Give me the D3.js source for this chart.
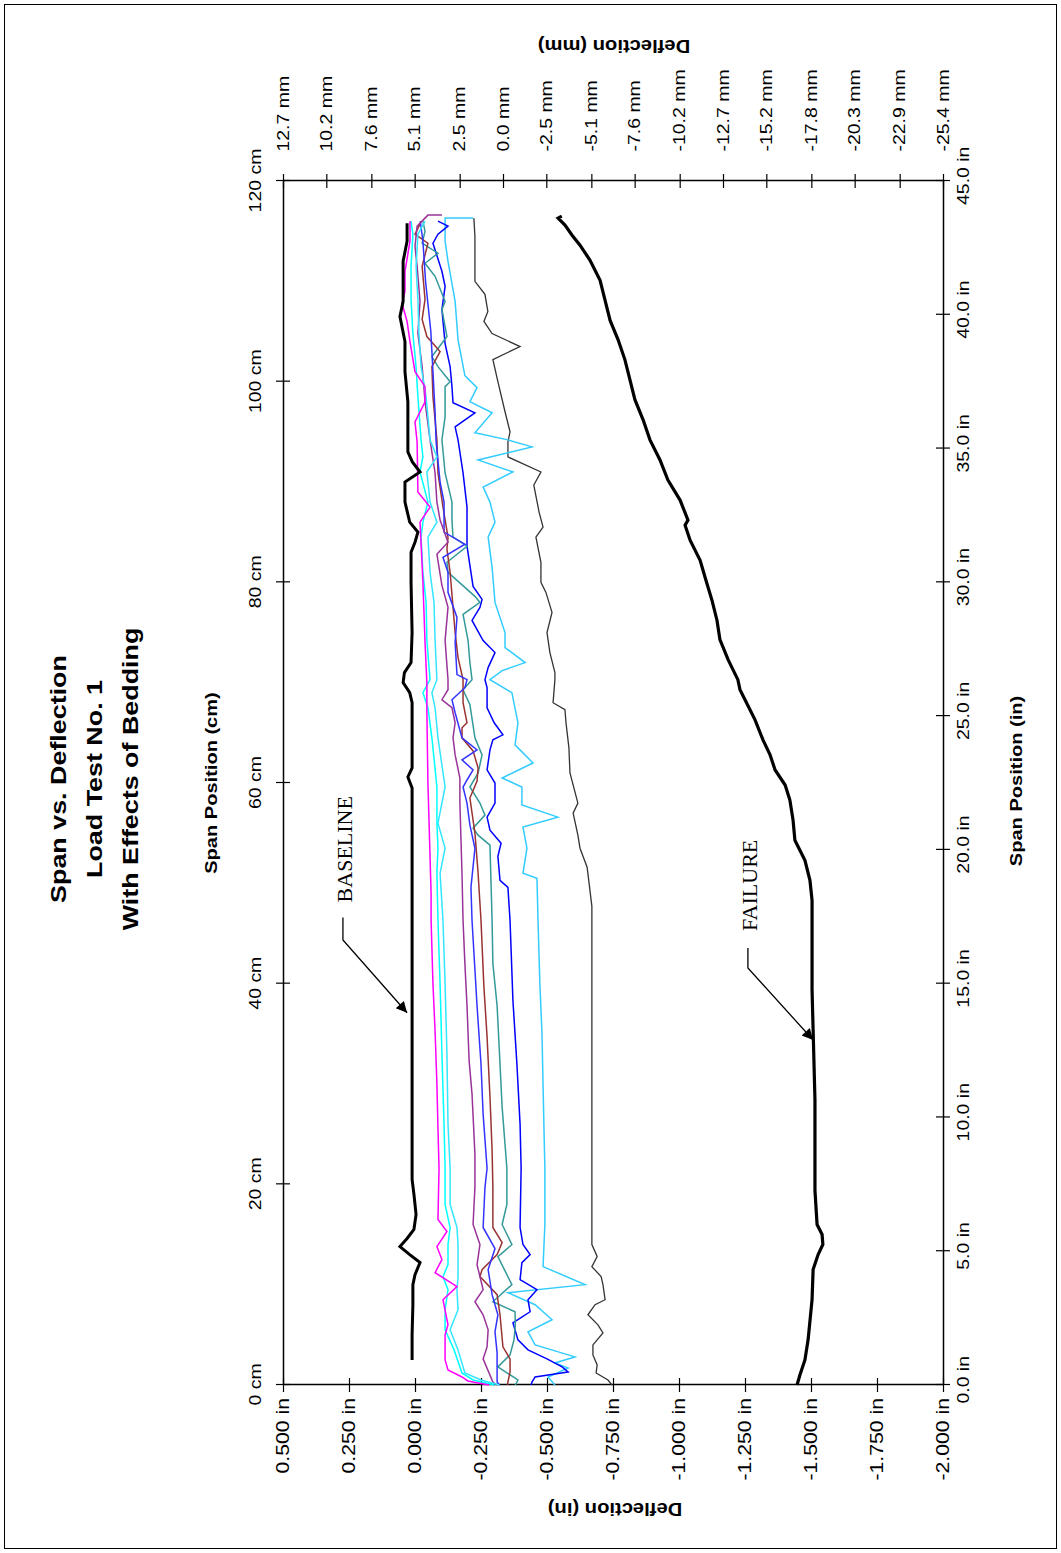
<!DOCTYPE html>
<html>
<head>
<meta charset="utf-8">
<script src="https://cdn.jsdelivr.net/npm/d3@7"></script>
<style>
  body { margin: 0; background: #fff; }
</style>
</head>
<body>
<script>
// ---- axis ticks ----
const cmTicks = [0, 20, 40, 60, 80, 100, 120];
const spanInTicks = [0, 5, 10, 15, 20, 25, 30, 35, 40, 45];
const deflInTicks = [0.5, 0.25, 0, -0.25, -0.5, -0.75, -1.0, -1.25, -1.5, -1.75, -2.0];
const deflMmTicks = [12.7, 10.2, 7.6, 5.1, 2.5, 0.0, -2.5, -5.1, -7.6, -10.2, -12.7, -15.2, -17.8, -20.3, -22.9, -25.4];

// ---- series: [span (cm), deflection (in)] ----
const baseline = [[2.5,0.011],[5,0.011],[8,0.008],[10,0.008],[11,0.0],[12.2,-0.019],[13,0.02],[13.8,0.057],[14.6,0.03],[15.5,0.004],[17,-0.004],[19,0.004],[20.5,0.011],[40,0.011],[59.5,0.011],[60.6,0.027],[61.5,0.011],[68,0.011],[69,0.02],[70,0.045],[71,0.04],[72,0.015],[75,0.011],[80,0.015],[83,0.015],[84,0.0],[85,-0.011],[86,0.02],[88,0.038],[90,0.038],[91,-0.019],[92,0.01],[93,0.027],[98,0.027],[101,0.038],[104,0.038],[106.5,0.057],[108,0.045],[112,0.045],[114,0.03],[115.8,0.03]];

const magenta = [[0,-0.28],[0.4,-0.2],[0.8,-0.178],[1.5,-0.125],[2.5,-0.114],[5,-0.114],[6,-0.125],[8.5,-0.106],[9.8,-0.159],[11.2,-0.076],[12.5,-0.102],[13.8,-0.083],[15.3,-0.121],[16.5,-0.087],[21.6,-0.091],[25.6,-0.087],[30,-0.083],[35.3,-0.076],[40,-0.068],[46.3,-0.061],[49,-0.061],[60,-0.049],[67,-0.045],[70,-0.045],[74,-0.038],[80,-0.030],[86,-0.019],[87.5,-0.057],[89,-0.011],[94,-0.008],[96,0.0],[98,-0.038],[99.5,-0.038],[101,0.0],[104,0.019],[106,0.030],[107.8,0.049],[109,0.038],[111,0.038],[114,0.019],[116,0.019]];

const cyanA = [[0,-0.30],[0.5,-0.22],[1.2,-0.178],[3.5,-0.148],[5.5,-0.114],[7.5,-0.114],[9.5,-0.125],[10.8,-0.106],[12,-0.125],[14,-0.125],[15.7,-0.133],[18,-0.114],[21.6,-0.114],[26,-0.110],[33,-0.102],[40,-0.095],[46.3,-0.087],[51,-0.083],[53.5,-0.087],[56,-0.083],[59.6,-0.083],[64.5,-0.064],[67.5,-0.049],[69,-0.030],[70.3,-0.057],[74.2,-0.045],[78,-0.042],[81,-0.030],[84.5,-0.023],[86,-0.030],[88,-0.049],[91,-0.019],[92.5,-0.030],[94.2,-0.023],[98.5,-0.011],[101.5,-0.004],[104.8,0.008],[108.2,0.015],[111.5,0.015],[114.7,0.008],[116,0.015]];

const cyanB = [[0,-0.32],[0.5,-0.25],[1.2,-0.189],[3.5,-0.163],[5.5,-0.133],[7.5,-0.163],[9.5,-0.159],[10.8,-0.163],[12,-0.163],[14,-0.163],[15.7,-0.159],[18,-0.133],[21.6,-0.133],[26,-0.125],[33,-0.121],[40,-0.114],[46.3,-0.106],[51,-0.095],[53.5,-0.114],[56,-0.087],[59.6,-0.114],[64.5,-0.087],[67.5,-0.076],[69,-0.064],[70.3,-0.083],[74.2,-0.076],[78,-0.072],[81,-0.057],[84.5,-0.049],[86,-0.083],[88,-0.057],[91,-0.045],[92.5,-0.083],[94.2,-0.057],[98.5,-0.042],[101.5,-0.023],[104.8,-0.015],[108.2,-0.011],[111.5,-0.004],[114.7,-0.011],[116,-0.038]];

const purple = [[0,-0.31],[0.3,-0.295],[2.6,-0.258],[3.8,-0.273],[5.5,-0.277],[7,-0.258],[8.3,-0.227],[9.5,-0.258],[12,-0.235],[14,-0.246],[16,-0.220],[19.7,-0.227],[23,-0.227],[29,-0.216],[32.3,-0.205],[37.8,-0.197],[42,-0.189],[46.3,-0.182],[51,-0.178],[58,-0.170],[60.5,-0.170],[62.8,-0.152],[64.5,-0.144],[66,-0.152],[67.5,-0.140],[68.3,-0.102],[69.3,-0.125],[70.3,-0.125],[74.2,-0.114],[77.5,-0.125],[79.7,-0.102],[82.8,-0.083],[84,-0.125],[86.2,-0.095],[88,-0.083],[90.9,-0.076],[94.2,-0.057],[98,-0.038],[101.5,-0.027],[104.8,-0.011],[108,-0.019],[111.5,-0.008],[113.5,0.0],[115.5,-0.008],[116.6,-0.049],[116.6,-0.102]];

const blueA = [[0,-0.32],[0.3,-0.311],[3.2,-0.311],[5.3,-0.303],[7,-0.314],[9,-0.292],[11.5,-0.277],[13.6,-0.303],[15.7,-0.258],[19.7,-0.265],[21.6,-0.273],[27,-0.258],[32,-0.250],[37.8,-0.235],[46.3,-0.216],[49.6,-0.212],[53.5,-0.227],[55.8,-0.208],[58,-0.197],[59.6,-0.182],[60.3,-0.197],[61.3,-0.220],[62.3,-0.178],[63.3,-0.235],[64.5,-0.178],[67,-0.152],[68.3,-0.140],[69.5,-0.189],[70.3,-0.197],[70.8,-0.159],[74,-0.152],[76.5,-0.159],[79,-0.125],[81,-0.125],[82.5,-0.106],[83.8,-0.189],[85,-0.110],[88,-0.110],[90,-0.095],[94,-0.080],[97,-0.076],[100,-0.070],[105,-0.060],[110,-0.040],[114,-0.030],[116,-0.020]];

const brown = [[0,-0.35],[0.3,-0.352],[1.3,-0.360],[2.6,-0.360],[3.8,-0.333],[7,-0.322],[9,-0.311],[10.8,-0.246],[11.5,-0.254],[13,-0.311],[14.2,-0.330],[15.7,-0.295],[19.7,-0.295],[23.4,-0.292],[28.7,-0.284],[34.7,-0.273],[39.7,-0.261],[46.3,-0.250],[51,-0.239],[55,-0.227],[58.5,-0.208],[60.2,-0.235],[61.5,-0.239],[63.2,-0.220],[64.5,-0.178],[65.5,-0.178],[66,-0.197],[68,-0.182],[70.3,-0.182],[72.5,-0.163],[75,-0.152],[77.5,-0.144],[81,-0.133],[83.3,-0.121],[84.5,-0.125],[87.5,-0.106],[90.9,-0.087],[94.2,-0.083],[98.5,-0.068],[101.5,-0.064],[103,-0.095],[104.5,-0.045],[106.2,-0.027],[108.2,-0.038],[111.5,-0.027],[113.8,-0.049],[114.7,0.0],[115.7,-0.019]];

const teal = [[0,-0.38],[0.5,-0.390],[1.8,-0.314],[3,-0.36],[4.5,-0.375],[6,-0.38],[7.3,-0.379],[8.3,-0.295],[10,-0.367],[12.8,-0.314],[14,-0.367],[16,-0.330],[18,-0.348],[21.6,-0.348],[27.7,-0.330],[32,-0.322],[37.8,-0.311],[42,-0.295],[46.3,-0.292],[50,-0.288],[53.8,-0.284],[54.8,-0.239],[55.5,-0.220],[56.8,-0.265],[58,-0.246],[59.6,-0.208],[61,-0.239],[62.8,-0.254],[64.5,-0.227],[67.8,-0.208],[69.3,-0.182],[70.3,-0.216],[72,-0.208],[74.2,-0.201],[76.8,-0.182],[78,-0.246],[78.6,-0.227],[81,-0.125],[82,-0.121],[83.6,-0.197],[84.5,-0.144],[86.2,-0.140],[88,-0.140],[90.9,-0.114],[94.2,-0.102],[96.5,-0.114],[99.5,-0.114],[100,-0.133],[101.5,-0.087],[102.5,-0.064],[104.5,-0.121],[107.2,-0.102],[108,-0.114],[110.5,-0.076],[111.8,-0.038],[112.8,-0.087],[113.8,-0.027],[115,-0.038],[116,-0.030]];

const blueB = [[0,-0.44],[0.3,-0.443],[0.8,-0.455],[1.3,-0.580],[1.8,-0.557],[2.6,-0.500],[3.5,-0.428],[4.5,-0.390],[6.2,-0.371],[7.3,-0.436],[8.5,-0.428],[9.5,-0.462],[10.5,-0.398],[12.2,-0.405],[13,-0.436],[14,-0.409],[15.7,-0.398],[21.6,-0.402],[26,-0.398],[32,-0.386],[38.3,-0.371],[46.3,-0.360],[49.6,-0.352],[50.3,-0.322],[52.7,-0.314],[54,-0.326],[55.3,-0.284],[56.6,-0.273],[58,-0.303],[60,-0.303],[61.3,-0.273],[63.3,-0.284],[64.3,-0.295],[64.8,-0.333],[66,-0.300],[67.5,-0.273],[69.5,-0.273],[70.3,-0.265],[71.5,-0.277],[73,-0.303],[74.2,-0.258],[76.2,-0.216],[77.5,-0.246],[78.3,-0.254],[79.6,-0.220],[83.6,-0.197],[87.5,-0.197],[90.9,-0.182],[94.2,-0.163],[95.5,-0.152],[96.9,-0.227],[97.9,-0.144],[99.5,-0.140],[101.5,-0.133],[103.8,-0.114],[107.2,-0.102],[109.5,-0.114],[111,-0.102],[113.8,-0.068],[114.7,-0.087],[115.5,-0.125],[116,-0.087]];

const skyBlue = [[0,-0.53],[0.8,-0.504],[1.7,-0.580],[2.2,-0.530],[2.8,-0.606],[4,-0.455],[5.3,-0.428],[6.5,-0.519],[8,-0.455],[9.2,-0.352],[10,-0.644],[11.8,-0.485],[16,-0.492],[21.6,-0.492],[25,-0.489],[30,-0.485],[35,-0.481],[40,-0.473],[46.3,-0.466],[50.5,-0.462],[51,-0.409],[53.5,-0.424],[55.6,-0.409],[56.6,-0.541],[57.8,-0.405],[59.6,-0.405],[60.5,-0.330],[62,-0.447],[63.8,-0.379],[66,-0.390],[69,-0.367],[70.3,-0.284],[71.2,-0.330],[72,-0.417],[73.5,-0.341],[75,-0.341],[78,-0.303],[81.5,-0.292],[84.5,-0.277],[86,-0.303],[88,-0.284],[89.5,-0.258],[91,-0.371],[92.2,-0.239],[93.5,-0.443],[94.2,-0.352],[94.9,-0.227],[96.9,-0.292],[98,-0.208],[99.4,-0.235],[100.6,-0.189],[104.2,-0.163],[108,-0.152],[112,-0.125],[114,-0.114],[116.3,-0.114],[116.3,-0.220]];

const thinBlack = [[0,-0.746],[0.5,-0.731],[1.2,-0.686],[2,-0.690],[3,-0.674],[4,-0.674],[5.2,-0.712],[6,-0.693],[7,-0.655],[8,-0.682],[8.5,-0.720],[10,-0.712],[10.8,-0.705],[11.8,-0.670],[12.8,-0.690],[14,-0.670],[30,-0.670],[47.7,-0.670],[51.6,-0.652],[53.5,-0.625],[54.8,-0.617],[57,-0.599],[58,-0.617],[61,-0.587],[63.5,-0.583],[66,-0.572],[67.3,-0.568],[68,-0.523],[70.3,-0.530],[71,-0.530],[73,-0.511],[75,-0.500],[77,-0.519],[79,-0.496],[80,-0.477],[82,-0.477],[84.5,-0.458],[85.5,-0.485],[87,-0.470],[89.7,-0.450],[91,-0.477],[92.5,-0.352],[94,-0.352],[95,-0.360],[97,-0.341],[100,-0.314],[102.2,-0.295],[103.5,-0.398],[104.8,-0.292],[106,-0.261],[107,-0.276],[108.7,-0.265],[110,-0.227],[114.5,-0.227],[116.3,-0.223]];

const failure = [[0,-1.447],[1,-1.458],[2.5,-1.477],[4.5,-1.489],[8.5,-1.504],[11.5,-1.508],[13,-1.527],[14,-1.545],[15,-1.542],[16,-1.523],[19.4,-1.515],[28.4,-1.515],[35.4,-1.508],[39.4,-1.504],[48.3,-1.504],[50.3,-1.496],[52.3,-1.477],[54.3,-1.439],[56.3,-1.432],[58.3,-1.420],[59.8,-1.402],[61.3,-1.364],[62.8,-1.345],[64.3,-1.318],[66.3,-1.288],[68.3,-1.250],[69.3,-1.231],[70.3,-1.223],[72.3,-1.186],[74.3,-1.155],[76.2,-1.144],[78.2,-1.125],[80.2,-1.102],[82.2,-1.080],[84.2,-1.042],[85.7,-1.023],[86.2,-1.034],[88.2,-1.004],[90.2,-0.958],[92.2,-0.928],[94.2,-0.890],[96.2,-0.864],[98.2,-0.833],[100.2,-0.814],[102.2,-0.795],[104.2,-0.769],[106.1,-0.739],[108.1,-0.720],[110.1,-0.701],[112.1,-0.663],[113.6,-0.625],[114.6,-0.595],[115.6,-0.568],[116.3,-0.542],[116.5,-0.556]];

// annotation leaders [cm, in]
const baselineLeader = [[46.6,0.273],[44.35,0.273],[37.1,0.030]];
const failureLeader = [[43.55,-1.261],[41.56,-1.261],[34.39,-1.508]];

const series = [
  { data: thinBlack, color: '#333333', width: 1.3 },
  { data: skyBlue, color: '#33CCFF', width: 1.5 },
  { data: blueB, color: '#0000FF', width: 1.5 },
  { data: teal, color: '#339999', width: 1.5 },
  { data: brown, color: '#993333', width: 1.5 },
  { data: blueA, color: '#3333FF', width: 1.5 },
  { data: purple, color: '#993399', width: 1.5 },
  { data: cyanB, color: '#33E6FF', width: 1.5 },
  { data: cyanA, color: '#00FFFF', width: 1.5 },
  { data: magenta, color: '#FF00FF', width: 1.5 },
  { data: baseline, color: '#000000', width: 3 },
  { data: failure, color: '#000000', width: 3.2 }
];

// ---- layout (chart drawn unrotated, then turned 90deg) ----
const plotW = 1204, plotH = 660;
const sans = '"Liberation Sans", Arial, sans-serif';
const serif = '"Liberation Serif", "Times New Roman", serif';
const stretch = 1.18;

const svg = d3.select('body').append('svg')
  .attr('width', 1061)
  .attr('height', 1553);

svg.append('rect')
  .attr('x', 4.5).attr('y', 4.5)
  .attr('width', 1052).attr('height', 1544)
  .attr('fill', 'white')
  .attr('stroke', '#000')
  .attr('stroke-width', 1);

const g = svg.append('g')
  .attr('transform', 'translate(283,1385) rotate(-90)');

// scales
const xCm = d3.scaleLinear().domain([0, 120]).range([0, plotW]);
const xIn = d3.scaleLinear().domain([0, 45]).range([0, plotW]);
const yIn = d3.scaleLinear().domain([0.5, -2.0]).range([0, plotH]);
const yMm = d3.scaleLinear().domain([12.7, -25.4]).range([0, plotH]);

function finishAxis(sel, size) {
  sel.attr('font-family', sans).attr('font-size', size);
  sel.select('.domain').attr('stroke', '#000').attr('stroke-width', 1.5);
  sel.selectAll('.tick line').attr('stroke', '#000').attr('stroke-width', 1.2);
  // cross tick marks
  sel.selectAll('.tick').each(function() {
    const l = d3.select(this).select('line');
    d3.select(this).append('line')
      .attr('x2', -(+l.attr('x2') || 0))
      .attr('y2', -(+l.attr('y2') || 0))
      .attr('stroke', '#000').attr('stroke-width', 1.2);
  });
  sel.selectAll('.tick text').attr('fill', '#000').attr('transform', `scale(${stretch},1)`);
}

// span (cm) -> image left
g.append('g')
  .call(d3.axisTop(xCm).tickValues(cmTicks).tickSize(7).tickSizeOuter(0).tickPadding(15)
    .tickFormat(d => d + ' cm'))
  .call(finishAxis, 16.5);

// span (in) -> image right
const spanInAxis = g.append('g')
  .attr('transform', `translate(0,${plotH})`)
  .call(d3.axisBottom(xIn).tickValues(spanInTicks).tickSize(7).tickSizeOuter(0).tickPadding(7)
    .tickFormat(d => d.toFixed(1) + ' in'))
  .call(finishAxis, 16.5);
spanInAxis.selectAll('.tick text').attr('dx', 4);

// deflection (in) -> image bottom
g.append('g')
  .call(d3.axisLeft(yIn).tickValues(deflInTicks).tickSize(7).tickSizeOuter(0).tickPadding(4)
    .tickFormat(d => d.toFixed(3) + ' in'))
  .call(finishAxis, 18);

// deflection (mm) -> image top
g.append('g')
  .attr('transform', `translate(${plotW},0)`)
  .call(d3.axisRight(yMm).tickValues(deflMmTicks).tickSize(7).tickSizeOuter(0).tickPadding(18)
    .tickFormat(d => d.toFixed(1) + ' mm'))
  .call(finishAxis, 16.5);

// series
const line = d3.line()
  .x(d => xCm(d[0]))
  .y(d => yIn(d[1]));

g.selectAll('path.series')
  .data(series)
  .enter()
  .append('path')
  .attr('class', 'series')
  .attr('d', d => line(d.data))
  .attr('fill', 'none')
  .attr('stroke', d => d.color)
  .attr('stroke-width', d => d.width)
  .attr('stroke-linejoin', 'miter');

// titles
const title = ['Span vs. Deflection', 'Load Test No. 1', 'With Effects of Bedding'];
title.forEach((t, i) => {
  g.append('text')
    .attr('transform', `translate(${plotW / 2 + 4},${-217 + i * 36}) scale(1.25,1)`)
    .attr('text-anchor', 'middle')
    .attr('font-family', sans)
    .attr('font-weight', 'bold')
    .attr('font-size', 21.5)
    .text(t);
});

g.append('text')
  .attr('transform', `translate(${plotW / 2},-66) scale(${stretch},1)`)
  .attr('text-anchor', 'middle')
  .attr('font-family', sans).attr('font-weight', 'bold').attr('font-size', 17)
  .text('Span Position (cm)');

g.append('text')
  .attr('transform', `translate(${plotW / 2 + 2},${plotH + 79}) scale(${stretch},1)`)
  .attr('text-anchor', 'middle')
  .attr('font-family', sans).attr('font-weight', 'bold').attr('font-size', 17)
  .text('Span Position (in)');

g.append('text')
  .attr('transform', `translate(-118,${plotH / 2 + 2}) rotate(-90) scale(1.12,1)`)
  .attr('text-anchor', 'middle')
  .attr('font-family', sans).attr('font-weight', 'bold').attr('font-size', 18)
  .text('Deflection (in)');

g.append('text')
  .attr('transform', `translate(${plotW + 141},${plotH / 2 + 1}) rotate(-90) scale(1.12,1)`)
  .attr('text-anchor', 'middle')
  .attr('font-family', sans).attr('font-weight', 'bold').attr('font-size', 18)
  .text('Deflection (mm)');

// annotations
svg.append('defs').append('marker')
  .attr('id', 'arrow')
  .attr('viewBox', '0 0 10 10')
  .attr('refX', 10).attr('refY', 5)
  .attr('markerWidth', 15).attr('markerHeight', 11)
  .attr('markerUnits', 'userSpaceOnUse')
  .attr('orient', 'auto')
  .append('path')
  .attr('d', 'M0,0 L10,5 L0,10 Z')
  .attr('fill', '#000');

const leader = d3.line().x(d => xCm(d[0])).y(d => yIn(d[1]));
[baselineLeader, failureLeader].forEach(pts => {
  g.append('path')
    .attr('d', leader(pts))
    .attr('fill', 'none')
    .attr('stroke', '#000')
    .attr('stroke-width', 1.3)
    .attr('marker-end', 'url(#arrow)');
});

g.append('text')
  .attr('x', xCm(53.4)).attr('y', yIn(0.239))
  .attr('text-anchor', 'middle')
  .attr('font-family', serif).attr('font-size', 22)
  .text('BASELINE');

g.append('text')
  .attr('x', xCm(49.8)).attr('y', yIn(-1.295))
  .attr('text-anchor', 'middle')
  .attr('font-family', serif).attr('font-size', 22)
  .text('FAILURE');
</script>
</body>
</html>
